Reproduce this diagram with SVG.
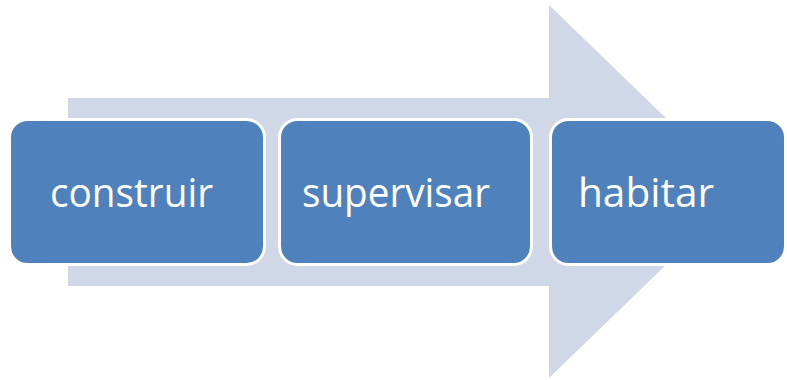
<svg xmlns="http://www.w3.org/2000/svg" width="787" height="380" viewBox="0 0 787 380">
  <style>
    .box { fill: #4f81bd; stroke: #ffffff; stroke-width: 3; }
    .lbl { font-family: "Open Sans", "Liberation Sans", sans-serif; font-size: 41px; fill: #ffffff; }
  </style>
  <g id="connectors">
    <polygon id="big-arrow" points="68,98 549,98 549,5 742,191.5 549,378 549,286 68,286" fill="#d0d8e8"/>
  </g>
  <g id="node-construir">
    <rect class="box" x="9.5" y="119.5" width="255" height="145" rx="18" ry="18"/>
    <text class="lbl" x="50" y="207" textLength="163" lengthAdjust="spacingAndGlyphs">construir</text>
  </g>
  <g id="node-supervisar">
    <rect class="box" x="279.5" y="119.5" width="252" height="145" rx="18" ry="18"/>
    <text class="lbl" x="302" y="207" textLength="188" lengthAdjust="spacingAndGlyphs">supervisar</text>
  </g>
  <g id="node-habitar">
    <rect class="box" x="550.5" y="119.5" width="235" height="145" rx="18" ry="18"/>
    <text class="lbl" x="578" y="207" textLength="136" lengthAdjust="spacingAndGlyphs">habitar</text>
  </g>
</svg>
